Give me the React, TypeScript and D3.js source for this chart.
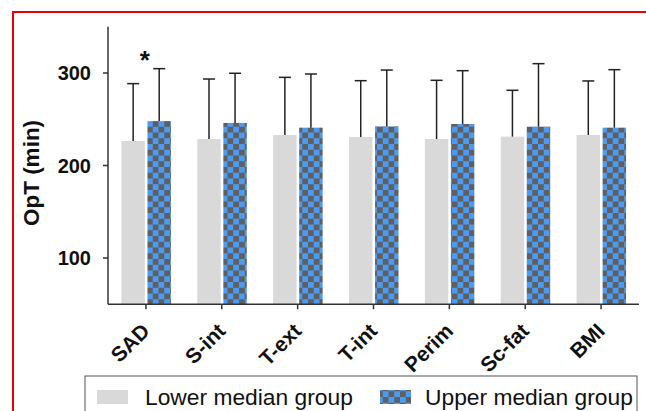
import React from "react";
import * as d3 from "d3";

const categories = ["SAD", "S-int", "T-ext", "T-int", "Perim", "Sc-fat", "BMI"];
const seriesNames = ["Lower median group", "Upper median group"];
const lowerMean = [226.5, 228.6, 233, 230.8, 228.6, 231.2, 233];
const lowerErrTop = [288.5, 293.5, 295.3, 291.7, 292.1, 281.3, 291.4];
const upperMean = [248, 246, 240.9, 242.3, 244.9, 242, 240.9];
const upperErrTop = [304.7, 299.7, 298.9, 303.2, 302.5, 310.1, 303.6];
const yTicks = [100, 200, 300];
const significant = ["SAD"];

const W = 646;
const H = 411;
const axisColor = "#333";

export default function App() {
  const x0 = d3.scaleBand<string>().domain(categories).range([108, 639]).paddingInner(0).paddingOuter(0);
  const x1 = d3.scaleBand<string>().domain(["lower", "upper"]).range([-24.5, 25]).paddingInner(0.1);
  const y = d3.scaleLinear().domain([50, 350]).range([304.25, 26.75]);

  const series = [
    { key: "lower", means: lowerMean, errs: lowerErrTop, fill: "#d9d9d9" },
    { key: "upper", means: upperMean, errs: upperErrTop, fill: "url(#checker)" },
  ];

  const cs = 5.75;
  return (
    <svg width={W} height={H} style={{ position: "absolute", left: 0, top: 0, background: "#fff" }} fontFamily="Liberation Sans, Arial, sans-serif">
      <defs>
        <pattern id="checker" patternUnits="userSpaceOnUse" width={cs * 2} height={cs * 2} x={147} y={121}>
          <rect width={cs * 2} height={cs * 2} fill="#4b9bf5" />
          <rect x={cs} y={0} width={cs} height={cs} fill="#5f5f5f" />
          <rect x={0} y={cs} width={cs} height={cs} fill="#5f5f5f" />
        </pattern>
      </defs>
      {/* red frame */}
      <path d={`M13,${H + 5} L13,12 L${W + 5},12`} fill="none" stroke="#ee0000" strokeWidth={2} />

      {/* bars */}
      {series.map((s) =>
        categories.map((c, i) => {
          const cx = (x0(c) as number) + x0.bandwidth() / 2;
          const bx = cx + (x1(s.key) as number);
          const bw = x1.bandwidth();
          const top = y(s.means[i]);
          const mid = bx + bw / 2;
          return (
            <g key={s.key + c}>
              <rect x={bx} y={top} width={bw} height={y(50) - top} fill={s.fill} />
              <line x1={mid} x2={mid} y1={top} y2={y(s.errs[i])} stroke="#222" strokeWidth={1.5} />
              <line x1={mid - 6} x2={mid + 6} y1={y(s.errs[i])} y2={y(s.errs[i])} stroke="#222" strokeWidth={1.5} />
            </g>
          );
        })
      )}

      {/* significance */}
      {significant.map((c) => {
        const cx = (x0(c) as number) + x0.bandwidth() / 2;
        return (
          <text key={c} x={cx - 1} y={69} textAnchor="middle" fontSize={26} fontWeight="bold" fill="#111">*</text>
        );
      })}

      {/* y axis */}
      <line x1={108} x2={108} y1={y(350)} y2={y(50)} stroke={axisColor} strokeWidth={1.5} />
      {yTicks.map((t) => (
        <g key={t}>
          <line x1={103} x2={108} y1={y(t)} y2={y(t)} stroke={axisColor} strokeWidth={1.5} />
          <text x={91} y={y(t)} dy="0.36em" textAnchor="end" fontSize={20} fontWeight="bold" fill="#111">{t}</text>
        </g>
      ))}
      <text transform={`translate(39,173) rotate(-90)`} textAnchor="middle" fontSize={22.5} fontWeight="bold" fill="#111">OpT (min)</text>

      {/* x axis */}
      <line x1={108} x2={639} y1={y(50)} y2={y(50)} stroke={axisColor} strokeWidth={1.5} />
      {categories.map((c) => {
        const cx = (x0(c) as number) + x0.bandwidth() / 2;
        return (
          <g key={c}>
            <line x1={cx} x2={cx} y1={y(50)} y2={y(50) + 5} stroke={axisColor} strokeWidth={1.5} />
            <text transform={`translate(${cx + 5},${y(50) + 28}) rotate(-45)`} textAnchor="end" fontSize={21} fontWeight="bold" fill="#111">{c}</text>
          </g>
        );
      })}

      {/* legend */}
      <rect x={85} y={376} width={552} height={60} fill="#fff" stroke="#555" strokeWidth={1} />
      <rect x={97} y={390} width={31} height={14} fill="#d9d9d9" />
      <text x={145} y={405} fontSize={22.8} fill="#111">{seriesNames[0]}</text>
      <rect x={380} y={390} width={31} height={14} fill="url(#checker)" />
      <text x={425} y={405} fontSize={22.8} fill="#111">{seriesNames[1]}</text>
    </svg>
  );
}
